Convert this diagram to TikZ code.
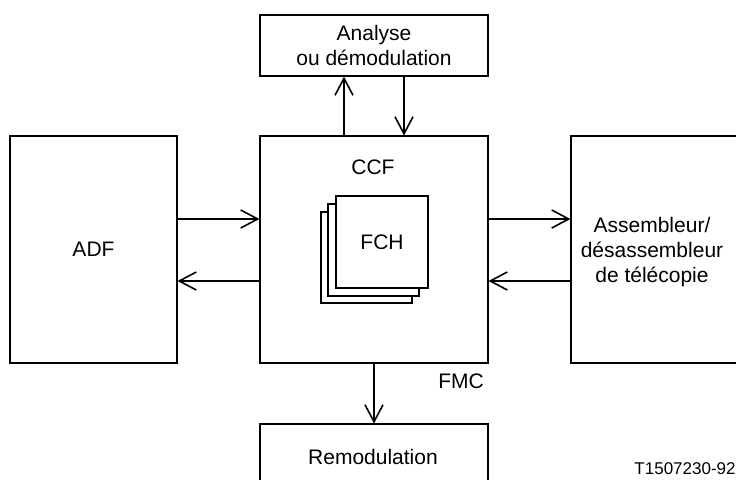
\documentclass[tikz,border=0pt]{standalone}
\usepackage{fontspec}
\setmainfont{Liberation Sans}
\usetikzlibrary{arrows.meta}
\begin{document}
\begin{tikzpicture}[x=0.5pt,y=-0.5pt,
  box/.style={draw,line width=0.55pt,inner sep=0pt,align=center,
    font=\fontsize{10.5pt}{12.5pt}\selectfont},
  lbl/.style={inner sep=0pt,font=\fontsize{10.5pt}{12.5pt}\selectfont},
  conn/.style={line width=0.8pt,-{Straight Barb[length=8.5pt,width=9pt]}}]
\clip (0,0) rectangle (736,479);
\fill[white] (0,0) rectangle (736,479);
% boxes
\node[box,minimum width=114pt,minimum height=30.5pt] (ana) at (374,45.5) {Analyse\\ou démodulation};
\node[box,minimum width=114pt,minimum height=113.5pt] (ccf) at (374,249.5) {};
\node[box,minimum width=83.5pt,minimum height=113.5pt] (adf) at (93.5,249.5) {ADF};
\node[box,minimum width=84.5pt,minimum height=113.5pt] (asm) at (655.5,249.5) {};
\node[lbl,align=center] (asmt) at (652,252) {Assembleur/\\désassembleur\\de télécopie};
\node[box,minimum width=114pt,minimum height=33pt] (rem) at (374,457) {};
\node[lbl] (remt) at (373,457) {Remodulation};
% labels
\node[lbl] (ccft) at (373,167) {CCF};
\node[lbl] (fmc) at (461,381) {FMC};
\node[inner sep=0pt,anchor=east,font=\fontsize{8.5pt}{10pt}\selectfont] (ref) at (736,469) {T1507230-92};
% FCH stack
\draw[line width=0.55pt,fill=white] (321,212) rectangle (412,303);
\draw[line width=0.55pt,fill=white] (328,204) rectangle (419,296);
\node[box,fill=white,minimum width=46pt,minimum height=46pt] (fch) at (382,242) {FCH};
% connectors
\draw[conn] ([xshift=-15pt]ccf.north) -- ([xshift=-15pt]ana.south);
\draw[conn] ([xshift=15pt]ana.south) -- ([xshift=15pt]ccf.north);
\draw[conn] ([yshift=15.25pt]adf.east) -- ([yshift=15.25pt]ccf.west);
\draw[conn] ([yshift=-15.75pt]ccf.west) -- ([yshift=-15.75pt]adf.east);
\draw[conn] ([yshift=15.25pt]ccf.east) -- ([yshift=15.25pt]asm.west);
\draw[conn] ([yshift=-15.75pt]asm.west) -- ([yshift=-15.75pt]ccf.east);
\draw[conn] (ccf.south) -- (rem.north);
\end{tikzpicture}
\end{document}
